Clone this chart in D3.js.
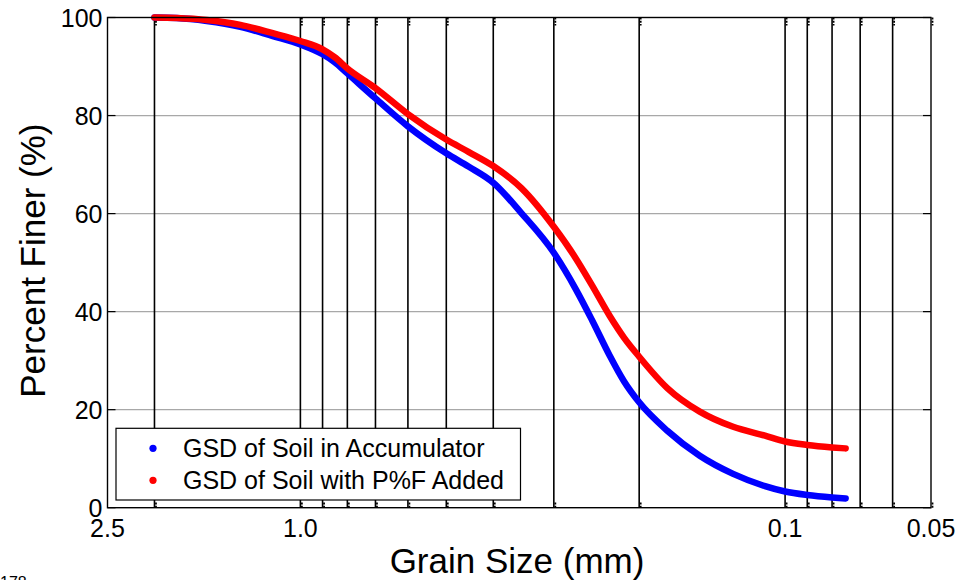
<!DOCTYPE html>
<html>
<head>
<meta charset="utf-8">
<script src="https://cdn.jsdelivr.net/npm/d3@7"></script>
<style>
  html, body { margin: 0; padding: 0; background: #fff; }
  svg { display: block; font-family: Arial, "Liberation Sans", Helvetica, sans-serif; }
</style>
</head>
<body>
<svg id="chart" width="963" height="580"></svg>
<script>
// Grain sizes (mm), ordered coarse to fine
const grainSize = [2.0, 1.8, 1.56, 1.33, 1.14, 1.0, 0.9, 0.85, 0.8, 0.7, 0.6, 0.5, 0.45, 0.4, 0.35, 0.3,
  0.27, 0.25, 0.23, 0.215, 0.2, 0.175, 0.15, 0.128, 0.11, 0.1, 0.09, 0.08, 0.075];

// Percent finer, soil in accumulator
const accumulatorFiner = [100, 99.9, 99.3, 98.1, 96.2, 94.5, 92.5, 90.9, 88.6, 83.5, 77.8, 72.3, 69.6, 66.3, 60.1, 52.0,
  44.5, 38.2, 31.0, 25.8, 21.5, 15.7, 10.6, 6.9, 4.4, 3.3, 2.6, 2.1, 1.9];

// Percent finer, soil with P%F added
const addedFiner = [100, 99.9, 99.5, 98.5, 96.8, 95.2, 93.5, 91.9, 89.6, 85.6, 80.3, 75.1, 72.6, 69.7, 65.2, 57.3,
  50.8, 45.3, 39.1, 34.7, 30.8, 24.4, 19.6, 16.5, 14.7, 13.5, 12.8, 12.3, 12.1];

// Axis ticks
const xTickValues = [2.5, 1.0, 0.1, 0.05];
const xTickLabels = ["2.5", "1.0", "0.1", "0.05"];
const sieveLines = [2.0, 1.0, 0.9, 0.8, 0.7, 0.6, 0.5, 0.4, 0.3, 0.2, 0.1, 0.09, 0.08, 0.07, 0.06];
const yTickValues = [0, 20, 40, 60, 80, 100];

const seriesNames = ["GSD of Soil in Accumulator", "GSD of Soil with P%F Added"];
const seriesColors = ["#0000ff", "#ff0000"];

const svg = d3.select("#chart");
const plot = { left: 107.5, right: 931, top: 17.5, bottom: 507.7 };

const x = d3.scaleLog().domain([2.5, 0.05]).range([plot.left, plot.right]);
const y = d3.scaleLinear().domain([0, 100]).range([plot.bottom, plot.top]);

// horizontal grid
svg.append("g").selectAll("line")
  .data(yTickValues.filter(v => v > 0 && v < 100))
  .join("line")
  .attr("x1", plot.left).attr("x2", plot.right)
  .attr("y1", d => y(d)).attr("y2", d => y(d))
  .attr("stroke", "#a8a8a8").attr("stroke-width", 1.2);

// vertical sieve lines
svg.append("g").selectAll("line")
  .data(sieveLines)
  .join("line")
  .attr("x1", d => x(d)).attr("x2", d => x(d))
  .attr("y1", plot.top).attr("y2", plot.bottom)
  .attr("stroke", "#000").attr("stroke-width", 1.6);

// small tick marks on top and bottom edges at each sieve line
const tickG = svg.append("g");
sieveLines.concat([0.05]).forEach(d => {
  tickG.append("line")
    .attr("x1", x(d) + 1.5).attr("x2", x(d) + 1.5)
    .attr("y1", plot.top).attr("y2", plot.top + 8)
    .attr("stroke", "#000").attr("stroke-width", 1.8).attr("stroke-dasharray", "2,1.3");
  tickG.append("line")
    .attr("x1", x(d) + 1.5).attr("x2", x(d) + 1.5)
    .attr("y1", plot.bottom).attr("y2", plot.bottom - 6)
    .attr("stroke", "#000").attr("stroke-width", 1.8).attr("stroke-dasharray", "2,1.3");
});

// y ticks left and right
yTickValues.forEach(v => {
  tickG.append("line").attr("x1", plot.left).attr("x2", plot.left + 8)
    .attr("y1", y(v)).attr("y2", y(v)).attr("stroke", "#000").attr("stroke-width", 1.2);
  tickG.append("line").attr("x1", plot.right).attr("x2", plot.right - 8)
    .attr("y1", y(v)).attr("y2", y(v)).attr("stroke", "#000").attr("stroke-width", 1.2);
});

// data curves
const line = d3.line()
  .x(d => x(d[0]))
  .y(d => y(d[1]))
  .curve(d3.curveMonotoneX);

[accumulatorFiner, addedFiner].forEach((vals, i) => {
  const pts = grainSize.map((g, k) => [g, vals[k]]);
  svg.append("path")
    .datum(pts)
    .attr("d", line)
    .attr("fill", "none")
    .attr("stroke", seriesColors[i])
    .attr("stroke-width", 6.5)
    .attr("stroke-linecap", "round")
    .attr("stroke-linejoin", "round");
});

// axes box
svg.append("rect")
  .attr("x", plot.left).attr("y", plot.top)
  .attr("width", plot.right - plot.left).attr("height", plot.bottom - plot.top)
  .attr("fill", "none").attr("stroke", "#000").attr("stroke-width", 1.4);

// y tick labels
svg.append("g").selectAll("text")
  .data(yTickValues)
  .join("text")
  .attr("x", plot.left - 5)
  .attr("y", d => y(d))
  .attr("dy", "0.36em")
  .attr("text-anchor", "end")
  .attr("font-size", 25)
  .text(d => d);

// x tick labels
svg.append("g").selectAll("text")
  .data(xTickValues)
  .join("text")
  .attr("x", d => x(d))
  .attr("y", 537)
  .attr("text-anchor", "middle")
  .attr("font-size", 25)
  .text((d, i) => xTickLabels[i]);

// axis titles
svg.append("text")
  .attr("x", 517).attr("y", 573)
  .attr("text-anchor", "middle")
  .attr("font-size", 35)
  .text("Grain Size (mm)");

svg.append("text")
  .attr("transform", "translate(45," + ((plot.top + plot.bottom) / 2 - 2) + ") rotate(-90)")
  .attr("text-anchor", "middle")
  .attr("font-size", 35)
  .text("Percent Finer (%)");

// legend
const legend = svg.append("g");
legend.append("rect")
  .attr("x", 116).attr("y", 428.3)
  .attr("width", 404.5).attr("height", 71.7)
  .attr("fill", "#fff").attr("stroke", "#000").attr("stroke-width", 1.2);
seriesNames.forEach((name, i) => {
  const cy = 448.3 + i * 32;
  legend.append("circle").attr("cx", 153).attr("cy", cy).attr("r", 3.6).attr("fill", seriesColors[i]);
  legend.append("text")
    .attr("x", 183).attr("y", cy + 9)
    .attr("font-size", 25)
    .text(name);
});

// figure number at the lower-left corner
svg.append("text")
  .attr("x", 0).attr("y", 588)
  .attr("font-size", 16)
  .text("178");
</script>
</body>
</html>
